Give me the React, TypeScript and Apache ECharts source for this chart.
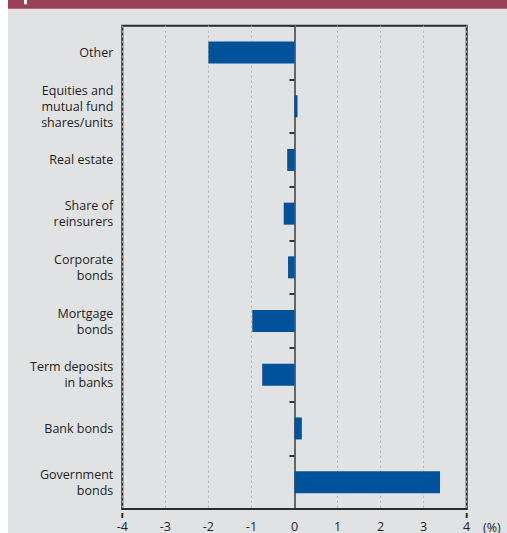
import React, { useEffect, useRef } from "react";
import * as echarts from "echarts";

const categories = [
  "Other",
  "Equities and\nmutual fund\nshares/units",
  "Real estate",
  "Share of\nreinsurers",
  "Corporate\nbonds",
  "Mortgage\nbonds",
  "Term deposits\nin banks",
  "Bank bonds",
  "Government\nbonds",
];
const values = [-2.0, 0.07, -0.17, -0.25, -0.15, -0.98, -0.75, 0.17, 3.38];
const xMin = -4;
const xMax = 4;
const xStep = 1;
const unitLabel = "(%)";

const FONT = "'Open Sans', 'Noto Sans', sans-serif";

export default function App() {
  const ref = useRef<HTMLDivElement>(null);
  useEffect(() => {
    if (!ref.current) return;
    const chart = echarts.init(ref.current, undefined, { renderer: "svg" });
    chart.setOption({
      animation: false,
      graphic: [
        { type: "rect", z: -10, shape: { x: 8, y: 0, width: 499, height: 533 }, style: { fill: "#e1e2e4" } },
        { type: "rect", z: -9, shape: { x: 8, y: 0, width: 499, height: 8.7 }, style: { fill: "#9a4158" } },
        { type: "rect", z: -8, shape: { x: 24, y: 0, width: 3, height: 4.3 }, style: { fill: "#ffffff" } },
        { type: "line", shape: { x1: 122.3, y1: 513, x2: 122.3, y2: 518 }, style: { stroke: "#2b2b2b", lineWidth: 2 } },
        { type: "line", shape: { x1: 466.7, y1: 513, x2: 466.7, y2: 518 }, style: { stroke: "#2b2b2b", lineWidth: 2 } },
        {
          type: "text",
          x: 483,
          y: 521,
          style: { text: unitLabel, fontSize: 12.5, fontFamily: FONT, fill: "#222" },
        },
      ],
      grid: {
        left: 122.3,
        right: 40.3,
        top: 25.7,
        bottom: 19.7,
        show: true,
        borderColor: "#2b2b2b",
        borderWidth: 2,
        backgroundColor: "transparent",
      },
      xAxis: {
        type: "value",
        min: xMin,
        max: xMax,
        interval: xStep,
        position: "bottom",
        axisLine: { show: true, onZero: false, lineStyle: { color: "#2b2b2b", width: 2 } },
        axisTick: { show: false },
        axisLabel: {
          margin: 11,
          fontSize: 12.5,
          fontFamily: FONT,
          color: "#1e1e1e",
        },
        splitLine: { show: true, lineStyle: { color: "#b0b0b0", type: [2, 3], width: 1 } },
      },
      yAxis: [
        {
          type: "category",
          data: categories,
          inverse: true,
          position: "left",
          axisLine: { show: false, onZero: false },
          axisTick: { show: false },
          axisLabel: {
            margin: 9,
            fontSize: 12.5,
            lineHeight: 16,
            fontFamily: FONT,
            color: "#1e1e1e",
            align: "right",
          },
          splitLine: { show: false },
        },
        {
          type: "category",
          data: categories,
          inverse: true,
          position: "left",
          axisLine: { show: true, onZero: true, lineStyle: { color: "#666", width: 2 } },
          axisTick: { show: true, length: 5, lineStyle: { color: "#333", width: 2 } },
          axisLabel: { show: false },
          splitLine: { show: false },
        },
      ],
      series: [
        {
          type: "bar",
          data: values,
          yAxisIndex: 0,
          barWidth: 22,
          itemStyle: { color: "#00529b" },
        },
      ],
    });
    return () => chart.dispose();
  }, []);
  return (
    <div
      ref={ref}
      style={{ position: "absolute", left: 0, top: 0, width: 507, height: 533 }}
    />
  );
}
